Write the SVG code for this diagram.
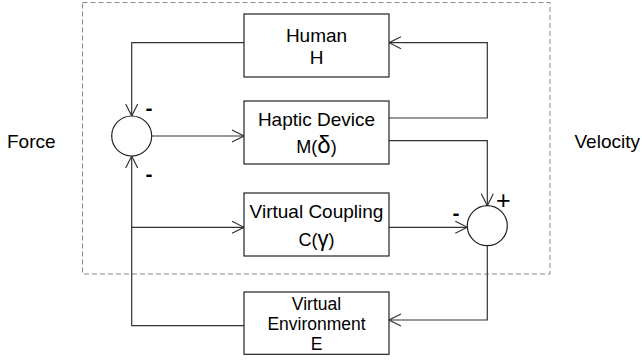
<svg xmlns="http://www.w3.org/2000/svg" width="642" height="362" viewBox="0 0 642 362">
<style>
.box{fill:#fff;stroke:#222;stroke-width:1.2}
.sum{fill:#fff;stroke:#222;stroke-width:1.2}
.t{font-family:"Liberation Sans",Arial,sans-serif;font-size:19px;fill:#000;text-anchor:middle}
.s{font-family:"Liberation Sans",Arial,sans-serif;font-size:17.5px;fill:#000;text-anchor:middle}
.lbl{font-family:"Liberation Sans",Arial,sans-serif;font-size:19px;fill:#000}
.minus{font-family:"Liberation Sans",Arial,sans-serif;font-weight:bold;font-size:21px;fill:#000;text-anchor:middle}
.plus{font-family:"Liberation Sans",Arial,sans-serif;font-size:25px;fill:#000;text-anchor:middle}
.c{fill:none;stroke:#333;stroke-width:1.2;marker-end:url(#arr)}
</style>
<defs>
<marker id="arr" markerUnits="userSpaceOnUse" markerWidth="14" markerHeight="14" viewBox="-13 -7 14 14" refX="0" refY="0" orient="auto">
<path d="M-12,-6 L0,0 L-12,6" fill="none" stroke="#333" stroke-width="1.2"/>
</marker>
</defs>
<rect x="82.5" y="2.5" width="467.5" height="271.5" fill="none" stroke="#888" stroke-width="1" stroke-dasharray="5,3"/>
<g id="connectors">
<path class="c" d="M244,42.7 H131.7 V116"/>
<path class="c" d="M151.7,136 H244"/>
<path class="c" d="M389,118 H487.3 V42.7 H389"/>
<path class="c" d="M389,140.7 H487.3 V205.7"/>
<path class="c" d="M244,325.7 H131.7 V156"/>
<path class="c" d="M131.7,227.3 H244"/>
<path class="c" d="M389,227.3 H467.3"/>
<path class="c" d="M487.3,245.7 V320 H389"/>
</g>
<g id="human">
<rect class="box" x="244" y="14" width="145" height="63"/>
<text class="t" x="316.5" y="42">Human</text>
<text class="t" x="316.5" y="64">H</text>
</g>
<g id="haptic">
<rect class="box" x="244" y="101" width="145" height="63"/>
<text class="t" x="316.5" y="125.7">Haptic Device</text>
<text class="t" x="316.5" y="153"><tspan font-size="18">M(</tspan><tspan font-size="24">δ</tspan><tspan font-size="18">)</tspan></text>
</g>
<g id="coupling">
<rect class="box" x="244" y="193" width="145" height="63"/>
<text class="t" x="316.5" y="218.3">Virtual Coupling</text>
<text class="t" x="316.5" y="245.5"><tspan font-size="18">C(</tspan><tspan font-size="22">γ</tspan><tspan font-size="18">)</tspan></text>
</g>
<g id="environment">
<rect class="box" x="244" y="292" width="145" height="62.3"/>
<text class="s" x="316.5" y="310">Virtual</text>
<text class="s" x="316.5" y="330">Environment</text>
<text class="s" x="316.5" y="350">E</text>
</g>
<g id="sum1">
<circle class="sum" cx="131.7" cy="136" r="20"/>
<text class="minus" x="149" y="114.7">-</text>
<text class="minus" x="149" y="181">-</text>
</g>
<g id="sum2">
<circle class="sum" cx="487.3" cy="225.7" r="20"/>
<text class="plus" x="503.3" y="208.8">+</text>
<text class="minus" x="456" y="220.3">-</text>
</g>
<g id="force"><text class="lbl" x="7" y="147.7">Force</text></g>
<g id="velocity"><text class="lbl" x="574.5" y="147.7">Velocity</text></g>
</svg>
